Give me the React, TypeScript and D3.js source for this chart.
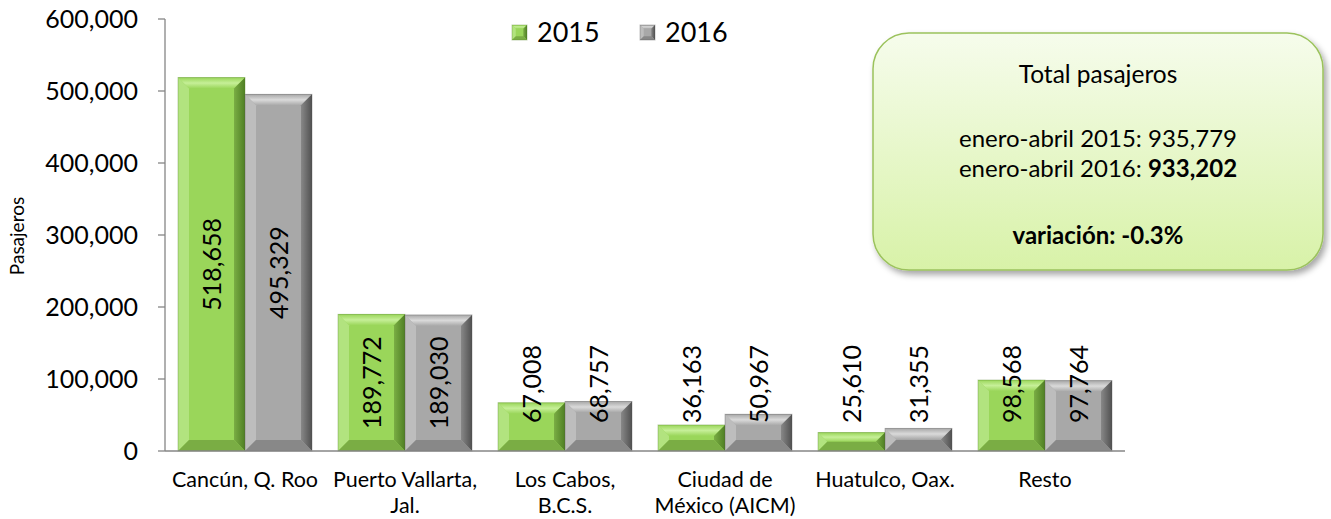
import React from "react";
import * as d3 from "d3";

const categories = ["Cancún, Q. Roo", "Puerto Vallarta,\nJal.", "Los Cabos,\nB.C.S.", "Ciudad de\nMéxico (AICM)", "Huatulco, Oax.", "Resto"];
const series = ["2015", "2016"];
const values2015 = [518658, 189772, 67008, 36163, 25610, 98568];
const values2016 = [495329, 189030, 68757, 50967, 31355, 97764];
const yTicks = [0, 100000, 200000, 300000, 400000, 500000, 600000];
const boxLines = ["Total pasajeros", "enero-abril 2015: 935,779", "enero-abril 2016: ", "933,202", "variación: -0.3%"];

const W = 1331, H = 519;
const FONT = "Lato, 'Open Sans', sans-serif";
const left = 165, right = 1125, top = 19, bottom = 451;

const palettes: Record<string, { face: string; light: string; top: string; dark: string; bottom: string }> = {
  "2015": { face: "#9ad65a", light: "#b2e37f", top: "#c6ef98", dark: "#4f7f24", bottom: "#7aad44" },
  "2016": { face: "#a8a8a8", light: "#bdbdbd", top: "#dadada", dark: "#505050", bottom: "#888888" },
};

function BevelBar({ x, y, w, h, key2 }: { x: number; y: number; w: number; h: number; key2: string }) {
  const p = palettes[key2];
  const b = Math.min(11, h / 2, w / 4);
  const x1 = x + w, y1 = y + h;
  return (
    <g>
      <rect x={x} y={y} width={w} height={h} fill={p.face} />
      <polygon points={`${x},${y} ${x1},${y} ${x1 - b},${y + b} ${x + b},${y + b}`} fill={`url(#top-${key2})`} />
      <polygon points={`${x},${y} ${x + b},${y + b} ${x + b},${y1 - b} ${x},${y1}`} fill={p.light} />
      <polygon points={`${x1},${y} ${x1},${y1} ${x1 - b},${y1 - b} ${x1 - b},${y + b}`} fill={`url(#right-${key2})`} />
      <polygon points={`${x},${y1} ${x + b},${y1 - b} ${x1 - b},${y1 - b} ${x1},${y1}`} fill={p.bottom} />
      <rect x={x} y={y} width={w} height={h} fill="none" stroke={p.dark} strokeOpacity={0.35} strokeWidth={1} />
    </g>
  );
}

export default function App() {
  const x0 = d3.scaleBand<string>().domain(categories).range([left, right]).paddingInner(0.1625).paddingOuter(0.08125);
  const x1 = d3.scaleBand<string>().domain(series).range([0, x0.bandwidth()]).padding(0);
  const y = d3.scaleLinear().domain([0, 600000]).range([bottom, top]);
  const fmt = d3.format(",");
  const data = [values2015, values2016];

  return (
    <svg width={W} height={H} style={{ display: "block", position: "absolute", left: 0, top: 0 }} fontFamily={FONT}>
      <defs>
        {series.map((s) => (
          <React.Fragment key={s}>
            <linearGradient id={`top-${s}`} x1="0" y1="0" x2="0" y2="1">
              <stop offset="0" stopColor={palettes[s].face} />
              <stop offset="0.5" stopColor={palettes[s].top} />
              <stop offset="1" stopColor={palettes[s].face} />
            </linearGradient>
            <linearGradient id={`right-${s}`} x1="0" y1="0" x2="1" y2="0">
              <stop offset="0" stopColor={palettes[s].bottom} />
              <stop offset="1" stopColor={palettes[s].dark} />
            </linearGradient>
          </React.Fragment>
        ))}
        <linearGradient id="boxfill" x1="0" y1="0" x2="0" y2="1">
          <stop offset="0" stopColor="#f6fcec" />
          <stop offset="1" stopColor="#d8f2a8" />
        </linearGradient>
        <filter id="shadow" x="-10%" y="-10%" width="130%" height="130%">
          <feDropShadow dx="3" dy="4" stdDeviation="3" floodColor="#000" floodOpacity="0.35" />
        </filter>
      </defs>

      {/* axis label */}
      <text transform={`translate(24,236) rotate(-90)`} textAnchor="middle" fontSize={19} fill="#000">Pasajeros</text>

      {/* y axis */}
      <line x1={left} x2={left} y1={top} y2={bottom} stroke="#868686" strokeWidth={1.3} />
      {yTicks.map((t) => (
        <g key={t}>
          <line x1={left - 7} x2={left} y1={y(t)} y2={y(t)} stroke="#868686" strokeWidth={1.3} />
          <text x={left - 27} y={y(t)} dy="0.36em" textAnchor="end" fontSize={25} fill="#000">{fmt(t)}</text>
        </g>
      ))}

      {/* bars */}
      {categories.map((c, i) => (
        <g key={c}>
          {series.map((s, j) => {
            const v = data[j][i];
            const bx = (x0(c) as number) + (x1(s) as number);
            const bw = x1.bandwidth();
            const by = y(v);
            const bh = bottom - by;
            const cy = Math.min(by + bh / 2, bottom - 19 - 48);
            return (
              <g key={s}>
                <BevelBar x={bx} y={by} w={bw} h={bh} key2={s} />
                <text transform={`translate(${bx + bw / 2},${cy}) rotate(-90)`} textAnchor="middle" dy="0.36em" fontSize={25} fill="#000">
                  {fmt(v)}
                </text>
              </g>
            );
          })}
        </g>
      ))}

      {/* x axis */}
      <line x1={left} x2={right} y1={bottom} y2={bottom} stroke="#868686" strokeWidth={1.3} />
      {categories.map((c) => {
        const cx = (x0(c) as number) + x0.bandwidth() / 2;
        return (
          <text key={c} x={cx} y={487} textAnchor="middle" fontSize={21.5} fill="#000">
            {c.split("\n").map((ln, k) => (
              <tspan key={k} x={cx} dy={k === 0 ? 0 : 26}>{ln}</tspan>
            ))}
          </text>
        );
      })}

      {/* legend */}
      {series.map((s, j) => {
        const lx = 512 + j * 128;
        return (
          <g key={s}>
            <BevelBar x={lx} y={25} w={15} h={15} key2={s} />
            <text x={lx + 25} y={42} fontSize={27} fill="#000">{s}</text>
          </g>
        );
      })}

      {/* text box */}
      <rect x={873} y={33} width={450} height={237} rx={36} ry={36} fill="url(#boxfill)" stroke="#9bc25c" strokeWidth={1.5} filter="url(#shadow)" />
      <text x={1098} y={83} textAnchor="middle" fontSize={24.5} fill="#000">{boxLines[0]}</text>
      <text x={1098} y={147} textAnchor="middle" fontSize={24} fill="#000">{boxLines[1]}</text>
      <text x={1098} y={177} textAnchor="middle" fontSize={24} fill="#000">
        {boxLines[2]}
        <tspan fontWeight="bold">{boxLines[3]}</tspan>
      </text>
      <text x={1098} y={244} textAnchor="middle" fontSize={24} fontWeight="bold" fill="#000">{boxLines[4]}</text>
    </svg>
  );
}
